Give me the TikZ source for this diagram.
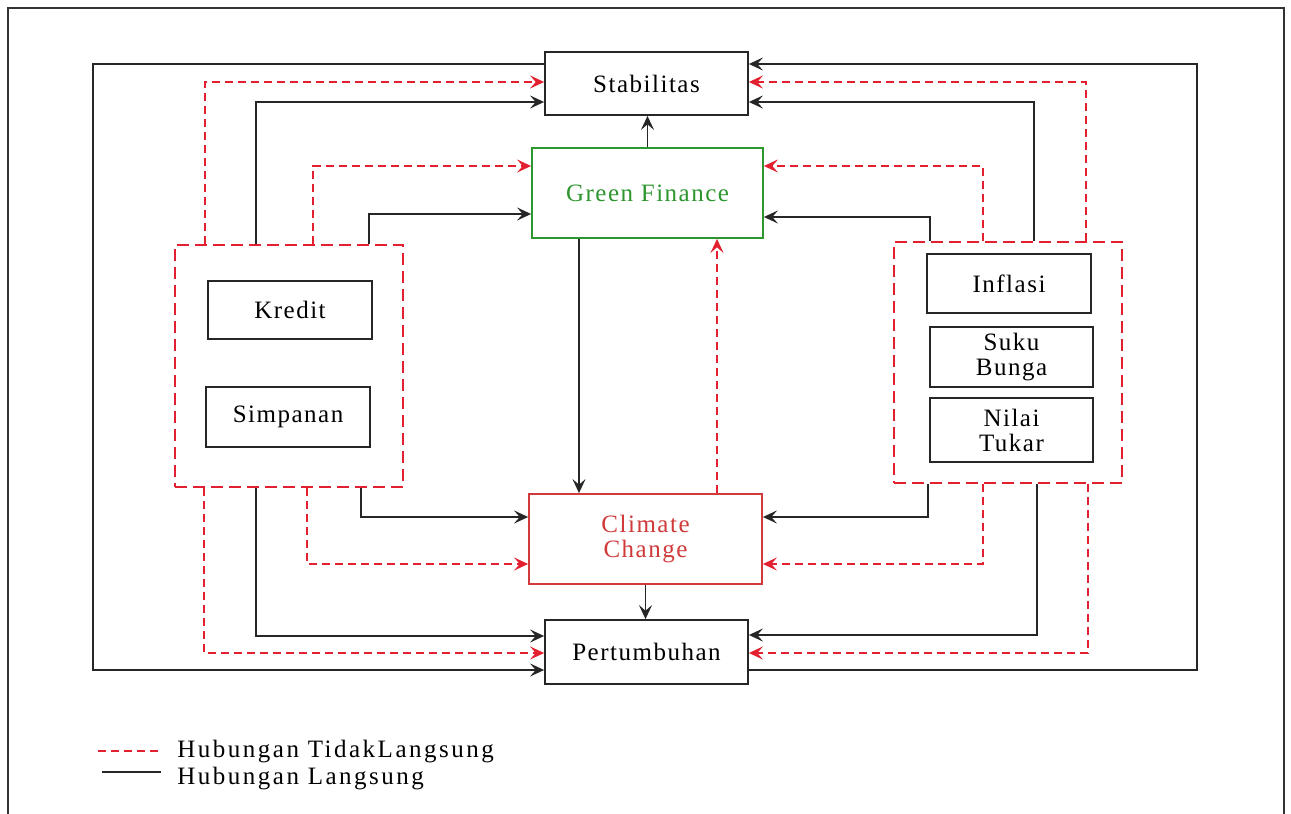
\documentclass[tikz,border=0pt]{standalone}
\usepackage{fontspec}
\setmainfont{Liberation Serif}[LetterSpace=6]
\usetikzlibrary{arrows.meta}
\definecolor{dashred}{RGB}{226,32,48}
\definecolor{gfgreen}{RGB}{46,150,46}
\definecolor{ccred}{RGB}{208,58,58}

\begin{document}
\begin{tikzpicture}[
  x=0.5pt, y=-0.5pt,
  font=\fontsize{12.5}{12.5}\selectfont,
  box/.style={draw=black!85, line width=0.9pt, fill=white, align=center, inner sep=0pt},
  grp/.style={draw=dashred, line width=0.9pt, dash pattern=on 6pt off 3pt},
  direct/.style={-{Stealth[length=7pt,width=6.5pt,inset=2.8pt]}, draw=black!85, line width=0.9pt},
  indirect/.style={direct, draw=dashred, dash pattern=on 4pt off 2.5pt},
  legline/.style={line width=0.9pt},
  legtext/.style={anchor=base west, inner sep=0pt, font=\fontsize{12.5}{12.5}\selectfont\addfontfeature{LetterSpace=10}}
]
\useasboundingbox (0,0) rectangle (1291,814);
\draw[black!80, line width=1pt] (8,830) -- (8,8) -- (1284,8) -- (1284,830);

% dashed groups
\node[grp, minimum width=114pt, minimum height=121pt] (lgrp) at (289,366) {};
\node[grp, minimum width=114pt, minimum height=120.5pt] (rgrp) at (1008,362.5) {};

% main boxes
\node[box, minimum width=101.5pt, minimum height=31.5pt] (stab) at (646.5,83.5) {Stabilitas};
\node[box, draw=gfgreen, text=gfgreen, minimum width=115.5pt, minimum height=45pt] (gf) at (647.5,193) {Green Finance};
\node[box, draw=ccred, text=ccred, minimum width=116.5pt, minimum height=45pt] (cc) at (645.5,539) {Climate\\Change};
\node[box, minimum width=101.5pt, minimum height=32pt] (pert) at (646.5,652) {Pertumbuhan};

% variables
\node[box, minimum width=82pt, minimum height=29pt] (kredit) at (290,310) {Kredit};
\node[box, minimum width=82pt, minimum height=30pt] (simp) at (288,417) {Simpanan};
\node[box, minimum width=82pt, minimum height=29.5pt] (infl) at (1009,283.5) {Inflasi};
\node[box, minimum width=81.5pt, minimum height=30pt] (suku) at (1011.5,357) {Suku\\Bunga};
\node[box, minimum width=81.5pt, minimum height=32pt] (nilai) at (1011.5,430) {Nilai\\Tukar};

% centre column
\draw[direct] (gf.north) -- (gf.north |- stab.south);
\draw[direct] (gf.south -| 579,0) -- (cc.north -| 579,0);
\draw[indirect] (cc.north -| 717,0) -- (gf.south -| 717,0);
\draw[direct] (cc.south) -- (cc.south |- pert.north);

% outer loops
\coordinate (lt) at (93,64);
\coordinate (lb) at (93,670);
\coordinate (rt) at (1197,64);
\coordinate (rb) at (1197,670);
\draw[direct] (stab.west |- lt) -- (lt) -- (lb) -- (pert.west |- lb);
\draw[direct] (pert.east |- rb) -- (rb) -- (rt) -- (stab.east |- rt);

% left group
\draw[indirect] (lgrp.north -| 205,0) |- (stab.west |- 0,82);
\draw[direct] (lgrp.north -| 256,0) |- (stab.west |- 0,102);
\draw[indirect] (lgrp.north -| 313,0) |- (gf.west |- 0,166);
\draw[direct] (lgrp.north -| 369,0) |- (gf.west |- 0,214);
\draw[indirect] (lgrp.south -| 204,0) |- (pert.west |- 0,653);
\draw[direct] (lgrp.south -| 256,0) |- (pert.west |- 0,636);
\draw[indirect] (lgrp.south -| 307,0) |- (cc.west |- 0,564);
\draw[direct] (lgrp.south -| 361,0) |- (cc.west |- 0,517);

% right group
\draw[indirect] (rgrp.north -| 1086,0) |- (stab.east |- 0,82);
\draw[direct] (rgrp.north -| 1034,0) |- (stab.east |- 0,102);
\draw[indirect] (rgrp.north -| 983,0) |- (gf.east |- 0,166);
\draw[direct] (rgrp.north -| 930,0) |- (gf.east |- 0,217);
\draw[direct] (rgrp.south -| 928,0) |- (cc.east |- 0,517);
\draw[indirect] (rgrp.south -| 983,0) |- (cc.east |- 0,564);
\draw[direct] (rgrp.south -| 1037,0) |- (pert.east |- 0,635);
\draw[indirect] (rgrp.south -| 1088,0) |- (pert.east |- 0,653);

% legend
\node[legtext] (legind) at (177,757) {Hubungan TidakLangsung};
\node[legtext] (legdir) at (177,784) {Hubungan Langsung};
\draw[legline, dashred, dash pattern=on 4pt off 2.5pt] (legind.west -| 98,0) -- ([xshift=-8pt]legind.west);
\draw[legline, black!85] ([yshift=3pt]legdir.west -| 102,0) -- ([xshift=-8pt,yshift=3pt]legdir.west);
\end{tikzpicture}
\end{document}
